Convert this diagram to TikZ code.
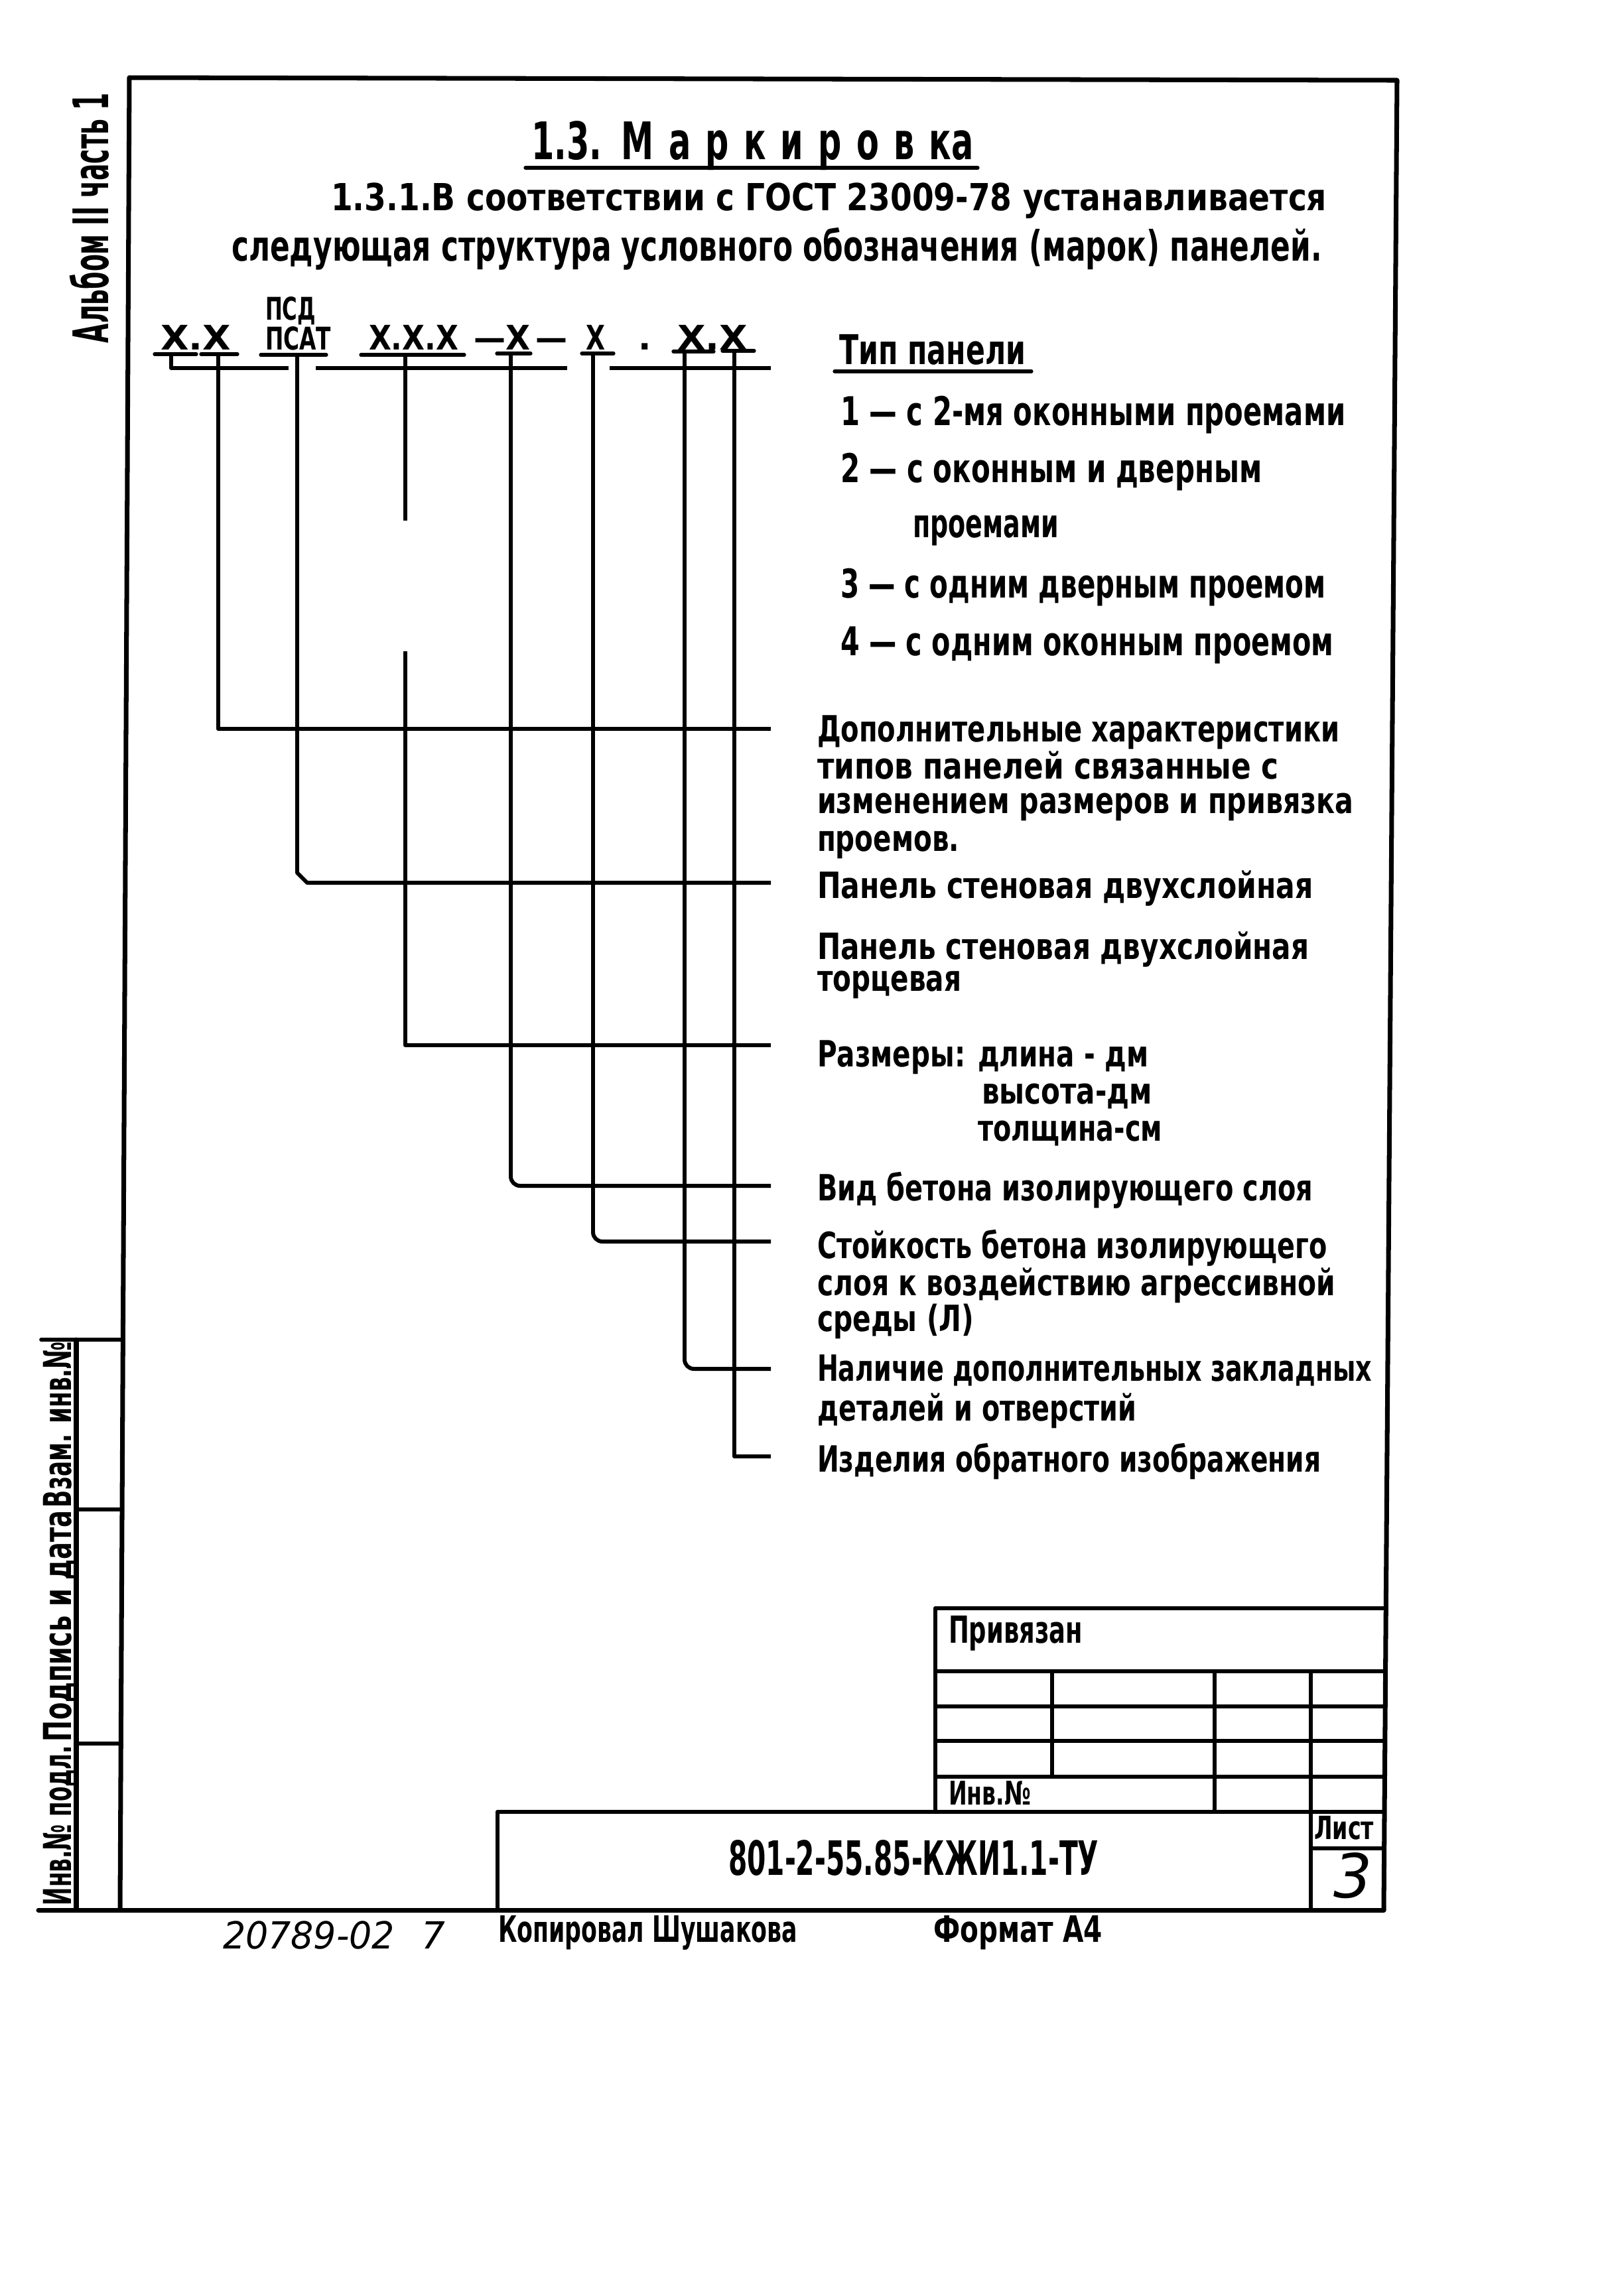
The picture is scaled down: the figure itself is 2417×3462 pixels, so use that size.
\documentclass[tikz,border=0pt]{standalone}
\usepackage{fontspec}
\setmainfont{DejaVu Sans}
\usepackage{graphicx}
\newcommand{\fitw}[2]{\resizebox{#1}{\height}{#2}}
\newcommand{\fsz}[1]{\fontsize{#1pt}{#1pt}\selectfont}
\begin{document}
\begin{tikzpicture}[x=0.01cm,y=-0.01cm,
  every node/.style={inner sep=0pt,outer sep=0pt,anchor=base west},
  frm/.style={line width=2pt,line cap=round,line join=round},
  con/.style={line width=1.7pt,line join=round},
  grd/.style={line width=1.6pt,line cap=round},
  uline/.style={line width=1.5pt,line cap=round},
  ttl/.style={font=\bfseries\fsz{22.2}},
  par/.style={font=\bfseries\fsz{16}},
  parb/.style={font=\bfseries\fsz{18}},
  frm1/.style={font=\bfseries\fsz{14.5}},
  frm2/.style={font=\bfseries\fsz{13.4}},
  itm/.style={font=\bfseries\fsz{17}},
  lbl/.style={font=\bfseries\fsz{15.5}},
  tbl/.style={font=\bfseries\fsz{16}},
  code/.style={font=\bfseries\fsz{20.3}},
  hand/.style={font=\mdseries\itshape\fsz{16}},
  side/.style={font=\bfseries\fsz{21},rotate=90},
  stmp/.style={font=\bfseries\fsz{16.5},rotate=90},
  rnd/.style={rounded corners=0.14cm}
]
\fill[white] (0,0) rectangle (2417,3462);
\useasboundingbox (0,0) rectangle (2417,3462);

% ---- frame ----
\coordinate (FTL) at (195,117);
\coordinate (FTR) at (2106,121);
\coordinate (FBR) at (2086,2880);
\coordinate (FBL) at (181,2880);
\coordinate (FBX) at (58,2880);
\draw[frm] (FBL) -- (FTL) -- (FTR) -- (FBR);
\draw[frm] (FBX) -- (FBR);

% ---- left stamp ----
\draw[frm] (115,2020) -- (115,2880);
\draw[grd] (62,2020) -- (185,2020);
\draw[grd] (115,2276) -- (184,2276);
\draw[grd] (115,2629) -- (182,2629);
\node[stmp] (s1) at (108,2873) {\fitw{2.41cm}{Инв.№ подл.}};
\node[stmp] (s2) at (108,2626) {\fitw{3.48cm}{Подпись и дата}};
\node[stmp] (s3) at (108,2273) {\fitw{2.50cm}{Взам. инв.№}};
\node[side] (alb) at (163,517) {\fitw{3.77cm}{Альбом II часть 1}};

% ---- heading ----
\node[ttl] (title) at (801,240) {\fitw{6.66cm}{1.3.\hskip0.6em{\addfontfeature{LetterSpace=45}Маркировк}а}};
\draw[uline] (792,253) -- (1474,253);
\node[par] (p1) at (499,317) {\fitw{15.0cm}{1.3.1.В соответствии с ГОСТ 23009-78 устанавливается}};
\node[parb] (p2) at (349,393) {\fitw{16.43cm}{следующая структура условного обозначения (марок) панелей.}};

% ---- formula ----
\node[frm2] (psd) at (400,482) {\fitw{0.76cm}{ПСД}};
\node[frm2] (psat) at (400,527) {\fitw{0.99cm}{ПСАТ}};
\node[frm1] (xx1) at (242,527) {\fitw{1.06cm}{Х.Х}};
\node[frm1] (xxx) at (556,527) {\fitw{1.35cm}{Х.Х.Х}};
\node[frm1] (xd) at (714,527) {\fitw{1.41cm}{—Х\,—}};
\node[frm1] (x5) at (883,527) {\fitw{0.29cm}{Х}};
\node[frm1] (dt) at (962,527) {.};
\node[frm1] (xx2) at (1021,527) {\fitw{1.06cm}{Х.Х}};

\draw[uline] (233,534) -- (296,534);
\draw[uline] (303,534) -- (358,534);
\draw[uline] (393,535) -- (492,535);
\draw[uline] (544,535) -- (700,535);
\draw[uline] (749,533) -- (800,533);
\draw[uline] (877,533) -- (925,533);
\draw[uline] (1015,530) -- (1076,530);
\draw[uline] (1089,529) -- (1137,529);

\draw[con] (258,534) -- (258,555) -- (435,555);
\draw[con] (476,555) -- (855,555);
\draw[con] (919,555) -- (1162,555);

\coordinate (t1) at (329,534);
\coordinate (t2) at (448,535);
\coordinate (t3) at (611,535);
\coordinate (t4) at (770,533);
\coordinate (t5) at (894,533);
\coordinate (t6) at (1032,530);
\coordinate (t7) at (1107,529);
\coordinate (e1) at (1162,1099);
\coordinate (e2) at (1162,1331);
\coordinate (e3) at (1162,1576);
\coordinate (e4) at (1162,1788);
\coordinate (e5) at (1162,1872);
\coordinate (e6) at (1162,2064);
\coordinate (e7) at (1162,2196);

\draw[con] (t1) |- (e1);
\draw[con] (t2) -- (448,1316) -- (463,1331) -- (e2);
\draw[con] (t3) -- (611,785);
\draw[con] (611,982) |- (e3);
\draw[con,rnd] (t4) |- (e4);
\draw[con,rnd] (t5) |- (e5);
\draw[con,rnd] (t6) |- (e6);
\draw[con] (t7) |- (e7);

% ---- panel types ----
\node[itm,font=\bfseries\fsz{17.6}] (tip) at (1265,549) {\fitw{2.81cm}{Тип панели}};
\draw[uline] (1258,560) -- (1555,560);
\node[itm] (i1) at (1267,641) {\fitw{7.61cm}{1 — с 2-мя оконными проемами}};
\node[itm] (i2) at (1267,727) {\fitw{6.35cm}{2 — с оконным и дверным}};
\node[itm] (i2b) at (1376,810) {\fitw{2.20cm}{проемами}};
\node[itm] (i3) at (1267,901) {\fitw{7.31cm}{3 — с одним дверным проемом}};
\node[itm] (i4) at (1267,988) {\fitw{7.43cm}{4 — с одним оконным проемом}};

% ---- labels ----
\node[lbl] (a1) at (1232,1118) {\fitw{7.87cm}{Дополнительные характеристики}};
\node[lbl] (a2) at (1232,1174) {\fitw{6.95cm}{типов панелей связанные с}};
\node[lbl] (a3) at (1232,1226) {\fitw{8.08cm}{изменением размеров и привязка}};
\node[lbl] (a4) at (1232,1283) {\fitw{2.14cm}{проемов.}};
\node[lbl] (b1) at (1232,1354) {\fitw{7.47cm}{Панель стеновая двухслойная}};
\node[lbl] (c1) at (1232,1446) {\fitw{7.41cm}{Панель стеновая двухслойная}};
\node[lbl] (c2) at (1232,1494) {\fitw{2.17cm}{торцевая}};
\node[lbl] (d1) at (1232,1608) {\fitw{4.99cm}{Размеры: длина - дм}};
\node[lbl] (d2) at (1480,1664) {\fitw{2.57cm}{высота-дм}};
\node[lbl] (d3) at (1474,1720) {\fitw{2.78cm}{толщина-см}};
\node[lbl] (f1) at (1232,1810) {\fitw{7.47cm}{Вид бетона изолирующего слоя}};
\node[lbl] (g1) at (1232,1897) {\fitw{7.68cm}{Стойкость бетона изолирующего}};
\node[lbl] (g2) at (1232,1953) {\fitw{7.81cm}{слоя к воздействию агрессивной}};
\node[lbl] (g3) at (1232,2007) {\fitw{2.36cm}{среды (Л)}};
\node[lbl] (h1) at (1232,2082) {\fitw{8.36cm}{Наличие дополнительных закладных}};
\node[lbl] (h2) at (1232,2142) {\fitw{4.81cm}{деталей и отверстий}};
\node[lbl] (k1) at (1232,2219) {\fitw{7.59cm}{Изделия обратного изображения}};

% ---- title block ----
\draw[grd] (1410,2425) -- (2089,2425);
\draw[grd] (1410,2520) -- (2089,2520);
\draw[grd] (1410,2573) -- (2088,2573);
\draw[grd] (1410,2625) -- (2088,2625);
\draw[grd] (1410,2679) -- (2088,2679);
\draw[grd] (750,2732) -- (2087,2732);
\draw[grd] (1976,2787) -- (2087,2787);
\draw[grd] (1410,2425) -- (1410,2732);
\draw[grd] (1586,2520) -- (1586,2679);
\draw[grd] (1831,2520) -- (1831,2732);
\draw[grd] (1976,2520) -- (1976,2880);
\draw[grd] (750,2732) -- (750,2880);
\node[tbl] (priv) at (1430,2477) {\fitw{2.02cm}{Привязан}};
\node[tbl,font=\bfseries\fsz{14}] (inv) at (1430,2721) {\fitw{1.24cm}{Инв.№}};
\node[code] (cd) at (1098,2827) {\fitw{5.58cm}{801-2-55.85-КЖИ1.1-ТУ}};
\node[tbl,font=\bfseries\fsz{13.7}] (list) at (1981,2773) {\fitw{0.90cm}{Лист}};
\node[hand,font=\mdseries\itshape\fsz{26}] (num) at (2010,2861) {3};

% ---- below frame ----
\node[hand] (arch) at (336,2938) {\fitw{2.59cm}{20789-02}};
\node[hand] (seven) at (635,2938) {7};
\node[tbl,font=\bfseries\fsz{15.6}] (copy) at (751,2928) {\fitw{4.51cm}{Копировал Шушакова}};
\node[tbl,font=\bfseries\fsz{15.6}] (fmt) at (1407,2928) {\fitw{2.55cm}{Формат А4}};
\end{tikzpicture}
\end{document}
